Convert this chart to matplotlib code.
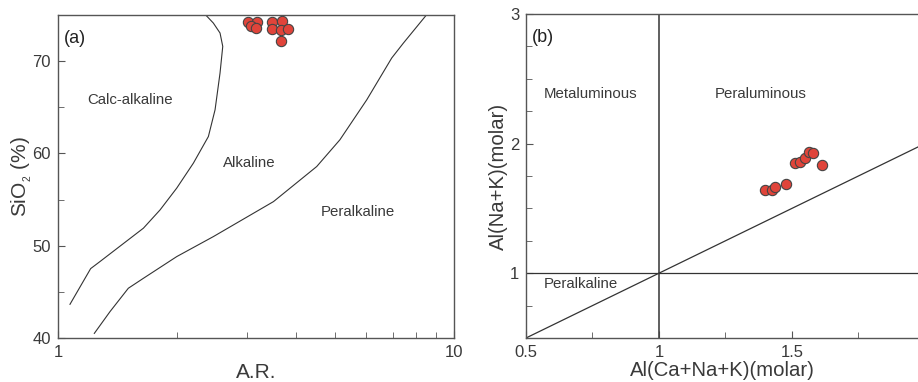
import numpy as np
import matplotlib.pyplot as plt
from matplotlib.ticker import MultipleLocator, FixedLocator, NullFormatter, FixedFormatter

plt.rcParams['font.family'] = ['Liberation Sans', 'DejaVu Sans']

# panel (a): SiO2 vs A.R.
ar = [3.02, 3.18, 3.07, 3.16, 3.46, 3.67, 3.48, 3.65, 3.81, 3.65]
sio2 = [74.24, 74.24, 73.84, 73.62, 74.27, 74.35, 73.44, 73.40, 73.44, 72.21]

# boundary calc-alkaline / alkaline
b1_x = [1.072, 1.209, 1.276, 1.643, 1.81, 1.994, 2.197, 2.397, 2.492, 2.565, 2.606, 2.565, 2.467, 2.365]
b1_y = [43.65, 47.52, 48.28, 51.9, 53.88, 56.24, 58.95, 61.83, 64.73, 68.71, 71.6, 73.05, 74.13, 74.96]
# boundary alkaline / peralkaline
b2_x = [1.235, 1.353, 1.505, 1.643, 1.994, 2.468, 3.5, 4.5, 5.15, 6.02, 6.96, 7.45, 8.5]
b2_y = [40.5, 42.86, 45.39, 46.47, 48.82, 50.99, 54.78, 58.58, 61.48, 65.81, 70.34, 71.96, 74.96]

# panel (b): A/NK vs A/CNK
acnk = [1.398, 1.424, 1.436, 1.476, 1.510, 1.530, 1.549, 1.563, 1.578, 1.612]
ank = [1.64, 1.64, 1.664, 1.687, 1.85, 1.86, 1.885, 1.933, 1.925, 1.833]

txt = '#3a3a3a'
spine = '#555555'
red = '#e0443a'

fig = plt.figure(figsize=(9.18, 3.82), dpi=100)
ax1 = fig.add_axes([0.0632, 0.1152, 0.4314, 0.8455])
ax2 = fig.add_axes([0.573, 0.1152, 0.427, 0.8482])

for ax in (ax1, ax2):
    for s in ax.spines.values():
        s.set_color(spine)
        s.set_linewidth(1.0)
    ax.tick_params(which='both', direction='in', colors=spine, labelcolor=txt, labelsize=12, pad=5)
    ax.tick_params(which='major', length=5)
    ax.tick_params(which='minor', length=4)

# --- (a)
ax1.plot(b1_x, b1_y, color='#333333', lw=0.8)
ax1.plot(b2_x, b2_y, color='#333333', lw=0.8)
ax1.scatter(ar, sio2, s=55, color=red, edgecolor='#444444', linewidth=0.8, zorder=3, clip_on=False)
ax1.set_xscale('log')
ax1.set_xlim(1, 10)
ax1.set_ylim(40, 75)
ax1.xaxis.set_major_locator(FixedLocator([1, 10]))
ax1.xaxis.set_major_formatter(FixedFormatter(['1', '10']))
ax1.xaxis.set_minor_locator(FixedLocator([2, 3, 4, 5, 6, 7, 8, 9]))
ax1.xaxis.set_minor_formatter(NullFormatter())
ax1.yaxis.set_major_locator(MultipleLocator(10))
ax1.yaxis.set_minor_locator(MultipleLocator(5))
ax1.set_xlabel('A.R.', fontsize=15, color=txt, labelpad=2)
ax1.set_ylabel(r'SiO$_{\mathregular{_2}}$ (%)', fontsize=15, color=txt, labelpad=-1)
ax1.text(0.016, 0.955, '(a)', transform=ax1.transAxes, fontsize=13, color='#222222', va='top', ha='left')
ax1.text(1.52, 65.8, 'Calc-alkaline', fontsize=10.8, color=txt, ha='center', va='center')
ax1.text(3.04, 58.95, 'Alkaline', fontsize=10.8, color=txt, ha='center', va='center')
ax1.text(5.73, 53.7, 'Peralkaline', fontsize=10.8, color=txt, ha='center', va='center')

# --- (b)
ax2.set_xlim(0.5, 1.974)
ax2.set_ylim(0.5, 3)
ax2.axvline(1, color='#444444', lw=1.2)
ax2.axhline(1, color='#333333', lw=0.9)
ax2.plot([0.5, 2.0], [0.5, 2.0], color='#333333', lw=0.9)
ax2.scatter(acnk, ank, s=55, color=red, edgecolor='#444444', linewidth=0.8, zorder=3)
ax2.spines['right'].set_visible(False)
ax2.xaxis.set_major_locator(FixedLocator([0.5, 1, 1.5]))
ax2.xaxis.set_major_formatter(FixedFormatter(['0.5', '1', '1.5']))
ax2.xaxis.set_minor_locator(FixedLocator([0.75, 1.25, 1.75]))
ax2.yaxis.set_major_locator(FixedLocator([1, 2, 3]))
ax2.yaxis.set_minor_locator(MultipleLocator(0.25))
ax2.set_xlabel('Al(Ca+Na+K)(molar)', fontsize=14.6, color=txt, labelpad=1)
ax2.set_ylabel('Al(Na+K)(molar)', fontsize=14.6, color=txt, labelpad=1)
ax2.text(0.014, 0.955, '(b)', transform=ax2.transAxes, fontsize=13, color='#222222', va='top', ha='left')
ax2.text(0.744, 2.385, 'Metaluminous', fontsize=10.8, color=txt, ha='center', va='center')
ax2.text(1.383, 2.385, 'Peraluminous', fontsize=10.8, color=txt, ha='center', va='center')
ax2.text(0.707, 0.915, 'Peralkaline', fontsize=10.8, color=txt, ha='center', va='center')

fig.savefig('out.png', dpi=100)
